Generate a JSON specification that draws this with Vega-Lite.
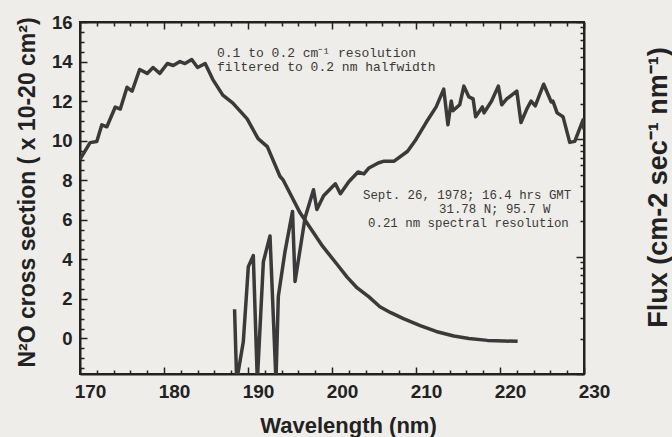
{
  "$schema": "https://vega.github.io/schema/vega-lite/v6.json",
  "width": 504,
  "height": 352,
  "autosize": {"type": "none"},
  "padding": {"left": 80, "top": 22, "right": 88, "bottom": 63},
  "background": "#eeede9",
  "config": {
    "view": {"stroke": "#222222", "strokeWidth": 2},
    "axis": {
      "grid": false,
      "domainColor": "#222222",
      "domainWidth": 2,
      "tickColor": "#222222",
      "tickWidth": 1.5,
      "labelFont": "Liberation Sans",
      "labelFontWeight": "bold",
      "labelColor": "#222222",
      "labelOverlap": false,
      "labelFlush": false,
      "titleFont": "Liberation Sans",
      "titleFontWeight": "bold",
      "titleColor": "#222222"
    }
  },
  "datasets": {
    "cross": [
      {"wavelength": 170.0, "cross_section": 9.05},
      {"wavelength": 171.2, "cross_section": 9.9},
      {"wavelength": 172.0, "cross_section": 9.96},
      {"wavelength": 172.6, "cross_section": 10.8},
      {"wavelength": 173.2, "cross_section": 10.7},
      {"wavelength": 174.2, "cross_section": 11.7},
      {"wavelength": 174.8, "cross_section": 11.6},
      {"wavelength": 175.6, "cross_section": 12.7},
      {"wavelength": 176.2, "cross_section": 12.5},
      {"wavelength": 177.1, "cross_section": 13.6},
      {"wavelength": 178.0, "cross_section": 13.4},
      {"wavelength": 178.7, "cross_section": 13.7},
      {"wavelength": 179.5, "cross_section": 13.4},
      {"wavelength": 180.4, "cross_section": 13.9},
      {"wavelength": 181.1, "cross_section": 13.8},
      {"wavelength": 181.9, "cross_section": 14.0},
      {"wavelength": 182.5, "cross_section": 13.9},
      {"wavelength": 183.3, "cross_section": 14.1},
      {"wavelength": 184.0, "cross_section": 13.7},
      {"wavelength": 184.9, "cross_section": 13.9},
      {"wavelength": 185.8, "cross_section": 13.1},
      {"wavelength": 187.0, "cross_section": 12.3},
      {"wavelength": 188.2, "cross_section": 11.9},
      {"wavelength": 189.9, "cross_section": 11.1},
      {"wavelength": 191.2, "cross_section": 10.1},
      {"wavelength": 192.3, "cross_section": 9.7},
      {"wavelength": 193.8, "cross_section": 8.2},
      {"wavelength": 194.2, "cross_section": 8.0},
      {"wavelength": 196.2, "cross_section": 6.35},
      {"wavelength": 198.9, "cross_section": 4.65},
      {"wavelength": 200.5, "cross_section": 3.8},
      {"wavelength": 201.8, "cross_section": 3.1},
      {"wavelength": 203.0, "cross_section": 2.55},
      {"wavelength": 204.4, "cross_section": 2.1},
      {"wavelength": 205.7, "cross_section": 1.6},
      {"wavelength": 207.0, "cross_section": 1.3},
      {"wavelength": 208.5, "cross_section": 1.0},
      {"wavelength": 210.5, "cross_section": 0.65},
      {"wavelength": 212.4, "cross_section": 0.35},
      {"wavelength": 214.5, "cross_section": 0.12},
      {"wavelength": 216.3, "cross_section": 0.0},
      {"wavelength": 218.5, "cross_section": -0.1},
      {"wavelength": 220.5, "cross_section": -0.13},
      {"wavelength": 222.1, "cross_section": -0.15}
    ],
    "flux": [
      {"wavelength": 188.4, "flux": 3.56e10},
      {"wavelength": 188.65, "flux": 8.7e9},
      {"wavelength": 189.44, "flux": 1.88e10},
      {"wavelength": 190.04, "flux": 8.22e10},
      {"wavelength": 190.63, "flux": 1.02e11},
      {"wavelength": 191.11, "flux": 8.7e9},
      {"wavelength": 191.83, "flux": 9.06e10},
      {"wavelength": 192.62, "flux": 1.5e11},
      {"wavelength": 193.33, "flux": 8.7e9},
      {"wavelength": 193.61, "flux": 4.59e10},
      {"wavelength": 194.4, "flux": 1.1e11},
      {"wavelength": 195.3, "flux": 2.43e11},
      {"wavelength": 195.6, "flux": 6.14e10},
      {"wavelength": 196.8, "flux": 2.16e11},
      {"wavelength": 197.8, "flux": 3.72e11},
      {"wavelength": 198.2, "flux": 2.52e11},
      {"wavelength": 199.0, "flux": 3.31e11},
      {"wavelength": 200.4, "flux": 4.18e11},
      {"wavelength": 201.0, "flux": 3.44e11},
      {"wavelength": 202.0, "flux": 4.35e11},
      {"wavelength": 203.1, "flux": 5.27e11},
      {"wavelength": 203.8, "flux": 5.07e11},
      {"wavelength": 204.4, "flux": 5.7e11},
      {"wavelength": 205.5, "flux": 6.28e11},
      {"wavelength": 206.2, "flux": 6.52e11},
      {"wavelength": 207.4, "flux": 6.52e11},
      {"wavelength": 209.0, "flux": 7.91e11},
      {"wavelength": 210.0, "flux": 9.98e11},
      {"wavelength": 211.2, "flux": 1.39e12},
      {"wavelength": 212.4, "flux": 1.89e12},
      {"wavelength": 213.3, "flux": 2.68e12},
      {"wavelength": 213.8, "flux": 1.33e12},
      {"wavelength": 214.2, "flux": 2.12e12},
      {"wavelength": 214.4, "flux": 1.75e12},
      {"wavelength": 215.2, "flux": 1.97e12},
      {"wavelength": 215.7, "flux": 2.84e12},
      {"wavelength": 216.3, "flux": 2.3e12},
      {"wavelength": 216.8, "flux": 2.21e12},
      {"wavelength": 217.1, "flux": 1.56e12},
      {"wavelength": 217.9, "flux": 1.89e12},
      {"wavelength": 218.1, "flux": 1.68e12},
      {"wavelength": 219.0, "flux": 2.12e12},
      {"wavelength": 219.8, "flux": 2.84e12},
      {"wavelength": 220.2, "flux": 1.97e12},
      {"wavelength": 220.8, "flux": 2.21e12},
      {"wavelength": 222.0, "flux": 2.58e12},
      {"wavelength": 222.5, "flux": 1.39e12},
      {"wavelength": 223.2, "flux": 1.82e12},
      {"wavelength": 223.7, "flux": 2.12e12},
      {"wavelength": 224.2, "flux": 1.93e12},
      {"wavelength": 225.2, "flux": 2.95e12},
      {"wavelength": 226.1, "flux": 2.08e12},
      {"wavelength": 226.3, "flux": 2.12e12},
      {"wavelength": 226.8, "flux": 1.68e12},
      {"wavelength": 227.5, "flux": 1.56e12},
      {"wavelength": 228.3, "flux": 9.42e11},
      {"wavelength": 228.9, "flux": 9.61e11},
      {"wavelength": 229.9, "flux": 1.47e12},
      {"wavelength": 230.0, "flux": 1.21e12}
    ],
    "notes": [
      {"block": "a", "x": 186.31, "y": 14.42, "text": "0.1 to 0.2 cm⁻¹ resolution"},
      {"block": "a", "x": 186.31, "y": 13.71, "text": "filtered to 0.2 nm halfwidth"},
      {"block": "b", "x": 203.69, "y": 7.25, "text": "Sept. 26, 1978; 16.4 hrs GMT"},
      {"block": "b", "x": 212.74, "y": 6.54, "text": "31.78 N; 95.7 W"},
      {"block": "b", "x": 204.29, "y": 5.83, "text": "0.21 nm spectral resolution"}
    ]
  },
  "layer": [
    {
      "data": {"name": "cross"},
      "mark": {"type": "line", "color": "#3a3a3a", "strokeWidth": 3.5, "strokeJoin": "round", "clip": true},
      "encoding": {
        "x": {
          "field": "wavelength",
          "type": "quantitative",
          "scale": {"domain": [170, 230], "nice": false, "zero": false},
          "axis": {
            "orient": "bottom",
            "values": [170, 180, 190, 200, 210, 220, 230],
            "ticks": false,
            "tickSize": 0,
            "labelFontSize": 19,
            "labelBaseline": "top",
            "labelPadding": 8,
            "labelOffset": 10,
            "title": "Wavelength  (nm)",
            "titleFontSize": 22,
            "titleX": 268,
            "titleY": 51,
            "titleAlign": "center",
            "titleBaseline": "middle"
          }
        },
        "y": {
          "field": "cross_section",
          "type": "quantitative",
          "scale": {"domain": [-1.8, 16], "nice": false, "zero": false},
          "axis": {
            "orient": "left",
            "values": [0, 2, 4, 6, 8, 10, 12, 14, 16],
            "format": "d",
            "ticks": false,
            "tickSize": 0,
            "labelFontSize": 18.5,
            "labelPadding": 8,
            "title": "N²O cross section ( x 10-20 cm²)",
            "titleFontSize": 23,
            "titleAngle": 270,
            "titleX": -53,
            "titleY": 170,
            "titleAlign": "center",
            "titleBaseline": "middle"
          }
        }
      }
    },
    {
      "data": {"name": "notes"},
      "transform": [{"filter": "datum.block === 'a'"}],
      "mark": {"type": "text", "font": "Liberation Mono", "fontSize": 13, "align": "left", "baseline": "middle", "color": "#3a3a3a"},
      "encoding": {
        "x": {
          "field": "x",
          "type": "quantitative",
          "scale": {"domain": [170, 230], "nice": false, "zero": false},
          "axis": {
            "orient": "bottom",
            "values": [170,172,174,176,178,180,182,184,186,188,190,192,194,196,198,200,202,204,206,208,210,212,214,216,218,220,222,224,226,228,230],
            "labels": false,
            "domain": false,
            "tickSize": {"condition": {"test": "datum.value % 10 == 0", "value": -7}, "value": -4},
            "title": null
          }
        },
        "y": {
          "field": "y",
          "type": "quantitative",
          "scale": {"domain": [-1.8, 16], "nice": false, "zero": false},
          "axis": {
            "orient": "left",
            "values": [-1.5,-1,-0.5,0,0.5,1,1.5,2,2.5,3,3.5,4,4.5,5,5.5,6,6.5,7,7.5,8,8.5,9,9.5,10,10.5,11,11.5,12,12.5,13,13.5,14,14.5,15,15.5,16],
            "labels": false,
            "domain": false,
            "tickSize": {"condition": {"test": "datum.value % 2 == 0", "value": -7}, "value": -4},
            "title": null
          }
        },
        "text": {"field": "text"}
      }
    },
    {
      "data": {"name": "notes"},
      "transform": [{"filter": "datum.block === 'b'"}],
      "mark": {"type": "text", "font": "Liberation Mono", "fontSize": 12.4, "align": "left", "baseline": "middle", "color": "#3a3a3a"},
      "encoding": {
        "x": {"field": "x", "type": "quantitative", "scale": {"domain": [170, 230], "nice": false, "zero": false}, "axis": null},
        "y": {"field": "y", "type": "quantitative", "scale": {"domain": [-1.8, 16], "nice": false, "zero": false}, "axis": null},
        "text": {"field": "text"}
      }
    },
    {
      "data": {"name": "flux"},
      "mark": {"type": "line", "color": "#3a3a3a", "strokeWidth": 3.5, "strokeJoin": "round", "clip": true},
      "encoding": {
        "x": {
          "field": "wavelength",
          "type": "quantitative",
          "scale": {"domain": [170, 230], "nice": false, "zero": false},
          "axis": {
            "orient": "top",
            "values": [170,172,174,176,178,180,182,184,186,188,190,192,194,196,198,200,202,204,206,208,210,212,214,216,218,220,222,224,226,228,230],
            "labels": false,
            "tickSize": {"condition": {"test": "datum.value % 10 == 0", "value": -7}, "value": -4},
            "title": null
          }
        },
        "y": {
          "field": "flux",
          "type": "quantitative",
          "scale": {"type": "log", "domain": [1e10, 1e13], "nice": false},
          "axis": {
            "orient": "right",
            "values": [1e10,2e10,3e10,4e10,5e10,6e10,7e10,8e10,9e10,1e11,2e11,3e11,4e11,5e11,6e11,7e11,8e11,9e11,1e12,2e12,3e12,4e12,5e12,6e12,7e12,8e12,9e12,1e13],
            "labels": false,
            "tickSize": {"condition": {"test": "datum.value == 1e10 || datum.value == 1e11 || datum.value == 1e12 || datum.value == 1e13", "value": -8}, "value": -4},
            "title": "Flux (cm-2 sec⁻¹ nm⁻¹)",
            "titleFontSize": 27,
            "titleAngle": 270,
            "titleX": 74,
            "titleY": 165,
            "titleAlign": "center",
            "titleBaseline": "middle"
          }
        }
      }
    }
  ],
  "resolve": {"scale": {"y": "independent"}, "axis": {"x": "independent", "y": "independent"}}
}
